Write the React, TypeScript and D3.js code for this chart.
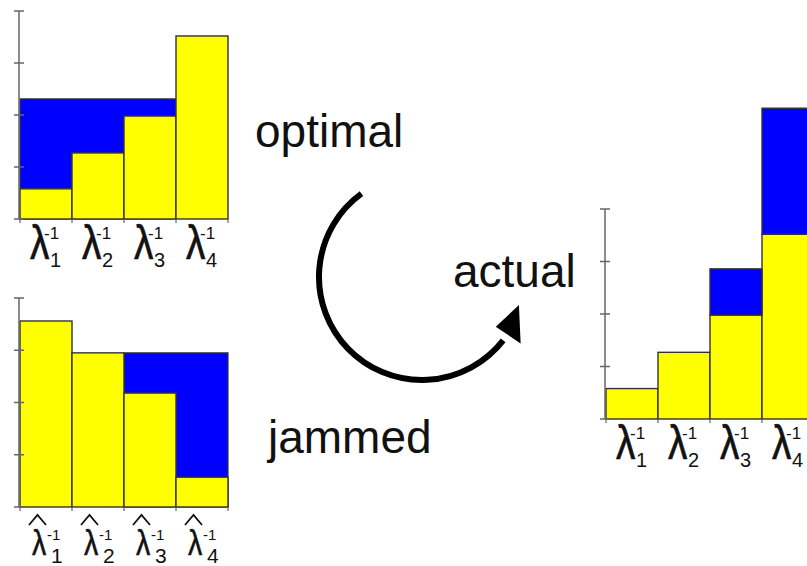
import React from 'react';
import * as d3 from 'd3';

// channel labels and axis ticks
const categories = ['1', '2', '3', '4'];
const yTicks = [0, 1, 2, 3, 4];

// optimal: water-filling over inverse channel gains
const optimalInvGain = [0.58, 1.27, 1.98, 3.52];
const optimalLevel = 2.31;

// jammed: estimated inverse gains
const jammedInvGain = [3.56, 2.95, 2.18, 0.57];
const jammedLevel = 2.95;

// actual: true inverse gains plus the power put on each channel
const actualInvGain = [0.58, 1.27, 1.98, 3.52];
const actualPower = [0, 0, 0.88, 2.4];

const W = 807;
const H = 566;
const FONT = '"Liberation Sans", Arial, Helvetica, sans-serif';
const YELLOW = '#ffff00';
const BLUE = '#0000ff';
const EDGE = '#333';
const AXIS = '#666';

type Panel = { x0: number; x1: number; base: number; top: number };

function scales(p: Panel) {
  const x = d3.scaleBand<string>().domain(categories).range([p.x0, p.x1]).paddingInner(0).paddingOuter(0);
  const y = d3.scaleLinear().domain([0, 4]).range([p.base, p.top]);
  return { x, y };
}

function Axis({ x, y }: { x: d3.ScaleBand<string>; y: d3.ScaleLinear<number, number> }) {
  const left = x.range()[0] - 1;
  const edges = categories.map((c) => x(c)!).concat([x.range()[1]]);
  return (
    <g>
      <line x1={left} x2={left} y1={y(4)} y2={y(0)} stroke={AXIS} strokeWidth={1.5} />
      {yTicks.map((t) => (
        <line key={t} x1={left - 5} x2={left + 5} y1={y(t)} y2={y(t)} stroke={AXIS} strokeWidth={1.5} />
      ))}
      {edges.map((e, i) => (
        <line key={i} x1={e} x2={e} y1={y(0)} y2={y(0) + 4} stroke={AXIS} strokeWidth={1.2} />
      ))}
    </g>
  );
}

function PlainLabel({ cx, base, sub }: { cx: number; base: number; sub: string }) {
  return (
    <g fontFamily={FONT} fill="#111">
      <text
        transform={`translate(${cx - 16},${base + 40}) scale(1.02,1.25)`}
        fontSize={38}
        stroke="#111"
        strokeWidth={0.5}
      >
        λ
      </text>
      <text x={cx - 2} y={base + 20} fontSize={17}>-1</text>
      <text x={cx + 4} y={base + 48} fontSize={20}>{sub}</text>
    </g>
  );
}

function HatLabel({ cx, base, sub }: { cx: number; base: number; sub: string }) {
  return (
    <g fontFamily={FONT} fill="#111">
      <path
        d={`M${cx - 17},${base + 18}L${cx - 8.5},${base + 8}L${cx},${base + 18}`}
        fill="none"
        stroke="#111"
        strokeWidth={1.8}
      />
      <text
        transform={`translate(${cx - 14},${base + 48}) scale(1.02,1.25)`}
        fontSize={28}
        stroke="#111"
        strokeWidth={0.4}
      >
        λ
      </text>
      <text x={cx + 1} y={base + 33} fontSize={15}>-1</text>
      <text x={cx + 5} y={base + 56} fontSize={21}>{sub}</text>
    </g>
  );
}

// water-filling panel: yellow bars, blue water up to the level
function WaterPanel({ p, inv, level, hat }: { p: Panel; inv: number[]; level: number; hat?: boolean }) {
  const { x, y } = scales(p);
  const bw = x.bandwidth();
  const filled = categories.filter((_, i) => level > inv[i]);
  const wx0 = x(filled[0])!;
  const wx1 = x(filled[filled.length - 1])! + bw;
  return (
    <g>
      {categories.map((c, i) =>
        level > inv[i] ? (
          <rect key={'w' + c} x={x(c)} y={y(level)} width={bw} height={y(inv[i]) - y(level)} fill={BLUE} />
        ) : null
      )}
      <rect x={wx0} y={y(level)} width={wx1 - wx0} height={y(0) - y(level)} fill="none" stroke={EDGE} strokeWidth={1.2} />
      {categories.map((c, i) => (
        <rect key={c} x={x(c)} y={y(inv[i])} width={bw} height={y(0) - y(inv[i])} fill={YELLOW} stroke={EDGE} strokeWidth={1.4} />
      ))}
      <Axis x={x} y={y} />
      {categories.map((c) =>
        hat ? (
          <HatLabel key={'l' + c} cx={x(c)! + bw / 2} base={p.base} sub={c} />
        ) : (
          <PlainLabel key={'l' + c} cx={x(c)! + bw / 2} base={p.base} sub={c} />
        )
      )}
    </g>
  );
}

function ActualPanel({ p }: { p: Panel }) {
  const { x, y } = scales(p);
  const bw = x.bandwidth();
  const rows = categories.map((c, i) => ({ c, inv: actualInvGain[i], power: actualPower[i] }));
  const stacked = d3.stack<{ c: string; inv: number; power: number }>().keys(['inv', 'power'])(rows as any);
  const fills = [YELLOW, BLUE];
  return (
    <g>
      {stacked.map((s, k) =>
        s.map((d, i) =>
          d[1] - d[0] > 0 ? (
            <rect
              key={k + '-' + i}
              x={x(categories[i])}
              y={y(d[1])}
              width={bw}
              height={y(d[0]) - y(d[1])}
              fill={fills[k]}
              stroke={EDGE}
              strokeWidth={1.4}
            />
          ) : null
        )
      )}
      <Axis x={x} y={y} />
      {categories.map((c) => (
        <PlainLabel key={'l' + c} cx={x(c)! + bw / 2} base={p.base} sub={c} />
      ))}
    </g>
  );
}

function CurvedArrow() {
  const cx = 422;
  const cy = 277;
  const r = 103;
  const rad = Math.PI / 180;
  const a0 = 234 * rad;
  const a1 = 38 * rad;
  const ab = 34 * rad;
  const p = d3.path();
  p.arc(cx, cy, r, a0, a1, true);
  const bx = cx + r * Math.cos(ab);
  const by = cy + r * Math.sin(ab);
  const tx = Math.sin(ab);
  const ty = -Math.cos(ab);
  const nx = Math.cos(ab);
  const ny = Math.sin(ab);
  const head = [
    [bx + 31 * tx - 7 * nx, by + 31 * ty - 7 * ny],
    [bx + 16 * nx, by + 16 * ny],
    [bx - 14 * nx, by - 14 * ny],
  ];
  return (
    <g>
      <path d={p.toString()} fill="none" stroke="#000" strokeWidth={6} />
      <path d={d3.line()(head as [number, number][])! + 'Z'} fill="#000" />
    </g>
  );
}

export default function App() {
  const topLeft: Panel = { x0: 20, x1: 228, base: 219, top: 11 };
  const bottomLeft: Panel = { x0: 20, x1: 228, base: 507, top: 298 };
  const right: Panel = { x0: 606, x1: 814, base: 419, top: 209 };
  return (
    <svg
      width={W}
      height={H}
      viewBox={`0 0 ${W} ${H}`}
      style={{ position: 'absolute', left: 0, top: 0, display: 'block', background: '#fff' }}
    >
      <rect x={0} y={0} width={W} height={H} fill="#fff" />
      <WaterPanel p={topLeft} inv={optimalInvGain} level={optimalLevel} />
      <WaterPanel p={bottomLeft} inv={jammedInvGain} level={jammedLevel} hat />
      <ActualPanel p={right} />
      <CurvedArrow />
      <g fontFamily={FONT} fontSize={46} fill="#111">
        <text x={255} y={147}>optimal</text>
        <text x={453} y={287}>actual</text>
        <text x={268} y={453}>jammed</text>
      </g>
    </svg>
  );
}
